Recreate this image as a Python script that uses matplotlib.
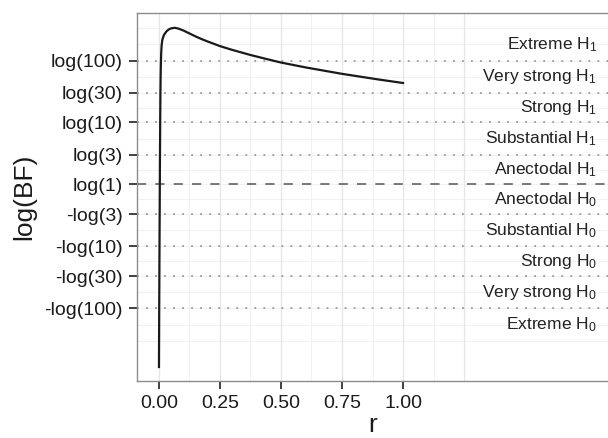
import numpy as np
import matplotlib.pyplot as plt

plt.rcParams['font.family'] = ['Liberation Sans', 'DejaVu Sans']
plt.rcParams['mathtext.fontset'] = 'custom'
plt.rcParams['mathtext.rm'] = 'Liberation Sans'
plt.rcParams['mathtext.it'] = 'Liberation Sans:italic'

# curve
r_vals = [0, 0.001, 0.002, 0.003, 0.004, 0.005, 0.006, 0.007, 0.008, 0.009, 0.011,
          0.014, 0.02, 0.03, 0.04, 0.05, 0.065, 0.08, 0.1, 0.125, 0.15, 0.175, 0.2,
          0.25, 0.3, 0.375, 0.45, 0.5, 0.6, 0.75, 0.9, 1.0]
logbf_vals = [-6.78, -4.6, -2.6, -0.9, 0.8, 2.3, 3.4, 4.1, 4.55, 4.85, 5.18,
              5.38, 5.55, 5.68, 5.76, 5.8, 5.82, 5.79, 5.72, 5.61, 5.5, 5.4, 5.31,
              5.14, 5.0, 4.81, 4.64, 4.53, 4.35, 4.11, 3.9, 3.77]

# evidence categories
bf_thresholds = [100, 30, 10, 3]
grades = ['Extreme', 'Very strong', 'Strong', 'Substantial', 'Anectodal']

x_breaks = [0, 0.25, 0.5, 0.75, 1.0]
x_labels = ['0.00', '0.25', '0.50', '0.75', '1.00']

pos_cut = np.log(bf_thresholds)                      # 4.6, 3.4, 2.3, 1.1
y_ticks = np.concatenate([pos_cut, [0], -pos_cut[::-1]])
y_labels = ['log(%d)' % b for b in bf_thresholds] + ['log(1)'] + \
           ['-log(%d)' % b for b in bf_thresholds[::-1]]

fig = plt.figure(figsize=(6.08, 4.38), dpi=100)
ax = fig.add_axes([137 / 608, 57 / 438, 471 / 608, 368 / 438])
ax.set_xlim(-0.09, 1.84)
ax.set_ylim(-7.30, 6.37)

# ggplot-like grid: major + minor, minor extends one step past the breaks
yb = np.sort(y_ticks)
step = yb[1] - yb[0]
yb_ext = np.concatenate([[yb[0] - step], yb, [yb[-1] + step]])
y_minor = np.concatenate([(yb_ext[:-1] + yb_ext[1:]) / 2, yb_ext])
for y in y_minor:
    ax.axhline(y, color='#f2f2f2', lw=0.8, zorder=0)
for x in np.arange(0.125, 1.3, 0.25):
    ax.axvline(x, color='#f2f2f2', lw=0.8, zorder=0)
for x in x_breaks + [1.25]:
    ax.axvline(x, color='#e6e6e6', lw=0.9, zorder=0)

# thresholds
for y in y_ticks:
    if y == 0:
        ax.axhline(0, color='#555555', lw=1.1, ls=(0, (6, 6)), zorder=1)
    else:
        ax.axhline(y, color='#9a9a9a', lw=1.3, ls=(0, (1, 4)), zorder=1)

ax.plot(r_vals, logbf_vals, color='#1a1a1a', lw=1.6, zorder=3)

# category labels, midway between cut points
cuts = np.concatenate([[pos_cut[0] + (pos_cut[0] - pos_cut[1])], pos_cut, [0]])
mids = (cuts[:-1] + cuts[1:]) / 2
for g, m in zip(grades, mids):
    ax.text(1.795, m, g + r' H$_1$', ha='right', va='center', fontsize=12.5, color='#222222')
    ax.text(1.795, -m, g + r' H$_0$', ha='right', va='center', fontsize=12.5, color='#222222')

ax.set_xticks(x_breaks)
ax.set_xticklabels(x_labels)
ax.set_yticks(y_ticks)
ax.set_yticklabels(y_labels)
ax.tick_params(axis='both', labelsize=14, length=6, width=1.3, color='#333333',
               labelcolor='#1a1a1a', pad=4)

for s in ['left', 'bottom', 'top']:
    ax.spines[s].set_color('#8c8c8c')
    ax.spines[s].set_linewidth(1.0)
ax.spines['right'].set_visible(False)

ax.set_xlabel('r', fontsize=19, color='#1a1a1a', labelpad=1)
ax.set_ylabel('log(BF)', fontsize=19, color='#1a1a1a', labelpad=6)

fig.savefig('out.png', dpi=100)
